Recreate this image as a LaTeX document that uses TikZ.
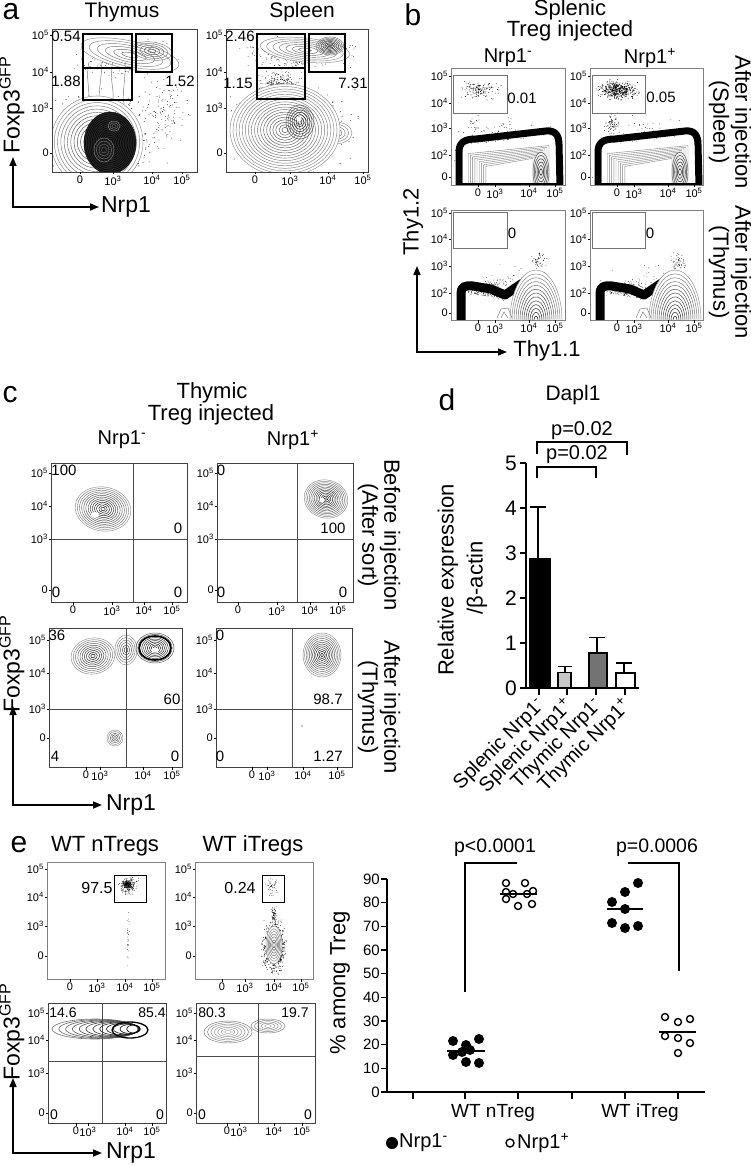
\documentclass[tikz,border=0pt]{standalone}
\usepackage{fontspec}
\setmainfont{Liberation Sans}
\usetikzlibrary{arrows.meta}
\newcounter{tkn}
\newcommand\fs[1]{\fontsize{#1}{#1}\selectfont}
\newcommand\E[1]{10\textsuperscript{#1}}
\newcommand\ytl[3]{\stepcounter{tkn}\draw[tkl] (#1,#2) -- (#1-2.5,#2);\node[tk,anchor=east] (tk\thetkn) at (#1-2.5,#2) {#3};}
\newcommand\xtl[3]{\stepcounter{tkn}\draw[tkl] (#1,#2) -- (#1,#2+2.5);\node[tk,anchor=north] (tk\thetkn) at (#1,#2+3) {#3};}
\newcommand\dcl[6]{\foreach \ii in {1,...,#5}{\pgfmathsetmacro\ddx{#3*(rand+rand+rand)/3}\pgfmathsetmacro\ddy{#4*(rand+rand+rand)/3}\fill (#1+\ddx,#2+\ddy) circle[radius=#6pt];}}
\newcommand\ctr[8]{\foreach \kk in {1,...,#5}{%
 \pgfmathsetmacro\sc{1-(\kk-1)/(#5)}%
 \pgfmathsetmacro\rxx{(#3)*\sc}\pgfmathsetmacro\ryy{(#4)*\sc}%
 \pgfmathtruncatemacro\shd{#7+(#8-#7)*(\kk-1)/max(#5-1,1)}%
 \draw[black!\shd,line width=0.45pt,rotate around={#6:(#1,#2)}] (#1,#2) ellipse[x radius=\rxx pt,y radius=\ryy pt];}}
\newcommand\wel[5]{\fill[white,rotate around={#5:(#1,#2)}] (#1,#2) ellipse[x radius=#3pt,y radius=#4pt];}
\newcommand\bUpper[3]{%
\begin{scope}\clip (#1,68) rectangle (#1+114,185);
\dcl{#1+57}{150}{70}{40}{260}{0.4}
\dcl{#1+28}{90}{26}{12}{#2}{0.45}
\dcl{#1+22}{125}{10}{14}{#3}{0.4}
\fill[white] (#1+12,185) -- (#1+12,152) .. controls (#1+12,145) and (#1+17,144) .. (#1+26,144) -- (#1+95,136) .. controls (#1+102,135) and (#1+104,139) .. (#1+104,146) -- (#1+105,185) -- cycle;
\draw[black,line width=7pt,line join=round] (#1+8,186) -- (#1+8,152) .. controls (#1+8,142) and (#1+14,139) .. (#1+25,139) -- (#1+95,131) .. controls (#1+105,130) and (#1+108,136) .. (#1+108,145) -- (#1+109,186);
\draw[white,line width=2.5pt] (#1+13,186) -- (#1+13,153) .. controls (#1+13,147) and (#1+18,146) .. (#1+26,146) -- (#1+95,138) .. controls (#1+101,137) and (#1+103,141) .. (#1+103,147) -- (#1+103.5,186);
\foreach \k in {1,...,9}{\draw[black!50,line width=0.4pt] (#1+15+2.2*\k,186) -- (#1+15+2.2*\k,152+1.6*\k) -- (#1+100-2*\k,144+1.6*\k) -- (#1+100-2*\k,186);}
\ctr{#1+90}{172}{8}{20}{6}{0}{70}{100}
\draw[black,line width=2pt] (#1+8,184) -- (#1+109,184);
\end{scope}}
\newcommand\bLower[1]{%
\begin{scope}\clip (#1,210) rectangle (#1+114,320);
\dcl{#1+35}{292}{32}{14}{260}{0.4}
\dcl{#1+88}{262}{10}{16}{50}{0.4}
\dcl{#1+60}{282}{45}{25}{60}{0.35}
\fill[white] (#1+15,320) -- (#1+15,296) -- (#1+22,294) -- (#1+40,297) -- (#1+54,302) -- (#1+70,292) -- (#1+70,320) -- cycle;
\draw[black,line width=9pt,line join=round] (#1+10,322) -- (#1+10,293) .. controls (#1+10,287) and (#1+14,285) .. (#1+22,286) -- (#1+40,289) -- (#1+54,295) -- (#1+70,284) -- (#1+88,275);
\wel{#1+85}{320}{26}{50}{0}
\ctr{#1+85}{320}{26}{50}{13}{0}{45}{100}
\draw[black!50,line width=0.5pt] (#1+46,318) -- (#1+50,309) -- (#1+57,308) -- (#1+61,318) (#1+50,318) -- (#1+53,312) -- (#1+57,318);
\end{scope}}
\tikzset{
 frm/.style={draw=black!75, line width=0.8pt},
 frmg/.style={draw=black!50, line width=0.7pt},
 gate/.style={draw=black, line width=1.1pt},
 gateg/.style={draw=black!55, line width=0.7pt},
 quad/.style={draw=black!70, line width=0.8pt},
 tkl/.style={line width=0.5pt},
 tk/.style={font=\fs{11}, inner sep=0.5pt},
 num/.style={font=\fs{15}, inner sep=0pt},
 ttl/.style={font=\fs{21}, inner sep=0pt},
 sub/.style={font=\fs{20}, inner sep=0pt},
 plet/.style={font=\fs{30}, inner sep=0pt},
 axl/.style={font=\fs{23}, inner sep=0pt},
 axarr/.style={line width=1.6pt, {Triangle[length=9pt,width=7pt]}-{Triangle[length=9pt,width=7pt]}},
 sidel/.style={font=\fs{22}, inner sep=0pt, rotate=-90, align=center},
 thk/.style={line width=1.6pt},
 fdot/.style={circle, fill=black, minimum size=10pt, inner sep=0pt},
 odot/.style={circle, draw=black, line width=1.4pt, minimum size=7pt, inner sep=0pt},
}
\begin{document}
\begin{tikzpicture}[x=1pt,y=-1pt]
\useasboundingbox (0,0) rectangle (750,1166);
\pgfmathsetseed{11}
%%%%%%%%%%%%%%%% panel a
\node[plet] (la) at (11,12) {a};
\node[ttl] (aT1) at (122,12) {Thymus};
\node[ttl] (aT2) at (302,12) {Spleen};
\begin{scope}
\clip (52,29) rectangle (197,172);
\dcl{100}{135}{75}{55}{450}{0.45}
\dcl{125}{58}{60}{24}{220}{0.4}
\dcl{165}{110}{35}{45}{120}{0.4}
\wel{130}{55}{50}{14}{-12}
\ctr{130}{55}{50}{14}{6}{-12}{45}{60}
\ctr{152}{51}{20}{9}{5}{-8}{50}{70}
\foreach \xx/\dd in {88/3,100/-3,112/4,124/-2}{\draw[black!55,line width=0.45pt] (\xx,105) .. controls (\xx+\dd,90) and (\xx-\dd,78) .. (\xx+1,62);}
\wel{97}{142}{46}{46}{0}
\ctr{97}{142}{46}{46}{14}{0}{45}{85}
\fill[black!85] (110,143) ellipse[x radius=26pt,y radius=31pt];
\ctr{110}{143}{26}{31}{16}{0}{100}{100}
\ctr{104}{150}{10}{12}{4}{0}{45}{60}
\ctr{114}{126}{6}{5}{3}{0}{45}{60}
\end{scope}
\draw[frm] (52,29) rectangle (197,172);
\draw[gate] (83,34) rectangle (132,68) (83,68) rectangle (132,100) (136,34) rectangle (172,72);
\node[num] (an1) at (66,36) {0.54};
\node[num] (an2) at (66,81) {1.88};
\node[num] (an3) at (180,81) {1.52};
\ytl{52}{35}{\E5}\ytl{52}{72}{\E4}\ytl{52}{108}{\E3}\ytl{52}{153}{0}
\xtl{80}{172}{0}\xtl{113}{172}{\E3}\xtl{152}{172}{\E4}\xtl{182}{172}{\E5}
\begin{scope}
\clip (226,29) rectangle (368,172);
\dcl{290}{125}{80}{55}{500}{0.45}
\dcl{298}{52}{68}{20}{450}{0.4}
\dcl{281}{84}{28}{15}{250}{0.4}
\wel{305}{50}{45}{12}{-6}
\ctr{305}{50}{45}{12}{7}{-6}{45}{60}
\ctr{330}{46}{14}{9}{8}{0}{55}{95}
\wel{335}{133}{17}{11}{0}
\ctr{335}{133}{17}{11}{5}{0}{45}{60}
\wel{285}{130}{55}{46}{0}
\ctr{285}{130}{55}{46}{18}{0}{45}{70}
\ctr{300}{122}{14}{17}{7}{0}{70}{100}
\fill[white] (299,119) circle[radius=2.5pt];
\end{scope}
\draw[frm] (226,29) rectangle (368,172);
\draw[gate] (257,34) rectangle (305,68) (257,68) rectangle (305,99) (309,34) rectangle (345,72);
\node[num] (an4) at (240,36) {2.46};
\node[num] (an5) at (238,83) {1.15};
\node[num] (an6) at (353,83) {7.31};
\ytl{226}{35}{\E5}\ytl{226}{72}{\E4}\ytl{226}{108}{\E3}\ytl{226}{153}{0}
\xtl{255}{172}{0}\xtl{290}{172}{\E3}\xtl{328}{172}{\E4}\xtl{363}{172}{\E5}
\coordinate (aY) at (13,157); \coordinate (aO) at (13,207); \coordinate (aX) at (99,207);
\draw[axarr] (aY) -- (aO) -- (aX);
\node[axl,rotate=90] (aFox) at (12,105) {Foxp3\textsuperscript{GFP}};
\node[axl] (aNrp) at (126,207) {Nrp1};
%%%%%%%%%%%%%%%% panel b
\node[plet] (lb) at (413,15) {b};
\node[ttl,font=\fs{22}] (bT1) at (570,10) {Splenic};
\node[ttl,font=\fs{22}] (bT2) at (570,31) {Treg injected};
\node[sub] (bS1) at (508,58) {Nrp1\textsuperscript{-}};
\node[sub] (bS2) at (650,58) {Nrp1\textsuperscript{+}};
\bUpper{451}{130}{20}
\bUpper{590}{450}{70}
\bLower{451}
\bLower{590}
\draw[frmg] (451,68) rectangle (565,185);
\draw[frmg] (590,68) rectangle (703,185);
\draw[frmg] (451,210) rectangle (565,320);
\draw[frmg] (590,210) rectangle (703,320);
\draw[gateg] (453,75) rectangle (507,113) (592,75) rectangle (645,113);
\draw[gateg] (453,212) rectangle (507,248) (592,212) rectangle (645,248);
\node[num] (bn1) at (522,98) {0.01};
\node[num] (bn2) at (661,97) {0.05};
\node[num] (bn3) at (512,233) {0};
\node[num] (bn4) at (650,233) {0};
\foreach \X in {451,590}{
\ytl{\X}{76}{\E5}\ytl{\X}{103}{\E4}\ytl{\X}{128}{\E3}\ytl{\X}{155}{\E2}\ytl{\X}{177}{0}
\ytl{\X}{213}{\E5}\ytl{\X}{239}{\E4}\ytl{\X}{266}{\E3}\ytl{\X}{293}{\E2}\ytl{\X}{313}{0}
\xtl{\X+27}{185}{0}\xtl{\X+44}{185}{\E3}\xtl{\X+78}{185}{\E4}\xtl{\X+104}{185}{\E5}
\xtl{\X+27}{320}{0}\xtl{\X+44}{320}{\E3}\xtl{\X+78}{320}{\E4}\xtl{\X+104}{320}{\E5}
}
\node[sidel] (bR1) at (730,122) {After injection\\(Spleen)};
\node[sidel] (bR2) at (730,272) {After injection\\(Thymus)};
\coordinate (bY) at (417,266); \coordinate (bO) at (417,352); \coordinate (bX) at (507,352);
\draw[axarr] (bY) -- (bO) -- (bX);
\node[axl,font=\fs{22},rotate=90] (bThy2) at (413,222) {Thy1.2};
\node[axl,font=\fs{22}] (bThy1) at (547,351) {Thy1.1};
%%%%%%%%%%%%%%%% panel c
\node[plet] (lc) at (10,395) {c};
\node[ttl,font=\fs{22}] (cT1) at (212,393) {Thymic};
\node[ttl,font=\fs{22}] (cT2) at (211,415) {Treg injected};
\node[sub] (cS1) at (122,440) {Nrp1\textsuperscript{-}};
\node[sub] (cS2) at (293,440) {Nrp1\textsuperscript{+}};
\wel{103}{509}{28}{22}{-10}
\ctr{103}{509}{28}{22}{13}{-10}{45}{100}
\fill[white] (95,515) ellipse[x radius=4pt,y radius=3pt];
\ctr{326}{499}{22}{19}{13}{-15}{45}{100}
\fill[white] (322,500) circle[radius=2.5pt];
\ctr{93}{656}{22}{18}{10}{10}{45}{100}
\ctr{126}{650}{11}{15}{6}{0}{45}{80}
\ctr{155}{648}{19}{15}{10}{0}{70}{100}
\draw[line width=1.6pt] (155,648) ellipse[x radius=16pt,y radius=12pt];
\fill[white] (155,650) ellipse[x radius=4pt,y radius=2.5pt];
\ctr{115}{738}{8}{8}{5}{0}{45}{80}
\ctr{322}{655}{19}{22}{12}{0}{45}{100}
\fill (302,726) circle[radius=0.7pt];
\draw[frm] (51,463) rectangle (187,602);
\draw[quad] (133,463) -- (133,602) (51,539) -- (187,539);
\draw[frm] (217,463) rectangle (353,602);
\draw[quad] (297,463) -- (297,602) (217,539) -- (353,539);
\draw[frm] (49,628) rectangle (182,767);
\draw[quad] (126,628) -- (126,767) (49,709) -- (182,709);
\draw[frm] (216,628) rectangle (352,767);
\draw[quad] (292,628) -- (292,767) (216,709) -- (352,709);
\node[num] (cn1) at (64,470) {100};
\node[num] (cn2) at (178,528) {0};
\node[num] (cn3) at (56,592) {0};
\node[num] (cn4) at (178,592) {0};
\node[num] (cn5) at (221,470) {0};
\node[num] (cn6) at (333,528) {100};
\node[num] (cn7) at (221,592) {0};
\node[num] (cn8) at (343,592) {0};
\node[num] (cn9) at (57,635) {36};
\node[num] (cn10) at (172,699) {60};
\node[num] (cn11) at (55,756) {4};
\node[num] (cn12) at (175,756) {0};
\node[num] (cn13) at (220,635) {0};
\node[num] (cn14) at (328,699) {98.7};
\node[num] (cn15) at (220,756) {0};
\node[num] (cn16) at (328,756) {1.27};
\ytl{51}{473}{\E5}\ytl{51}{506}{\E4}\ytl{51}{539}{\E3}\ytl{51}{590}{0}
\ytl{217}{473}{\E5}\ytl{217}{506}{\E4}\ytl{217}{539}{\E3}\ytl{217}{590}{0}
\xtl{73}{602}{0}\xtl{112}{602}{\E3}\xtl{144}{602}{\E4}\xtl{172}{602}{\E5}
\xtl{238}{602}{0}\xtl{277}{602}{\E3}\xtl{310}{602}{\E4}\xtl{338}{602}{\E5}
\ytl{49}{640}{\E5}\ytl{49}{673}{\E4}\ytl{49}{709}{\E3}\ytl{49}{738}{0}
\ytl{216}{640}{\E5}\ytl{216}{673}{\E4}\ytl{216}{709}{\E3}\ytl{216}{738}{0}
\xtl{86}{767}{0}\xtl{100}{767}{\E3}\xtl{143}{767}{\E4}\xtl{172}{767}{\E5}
\xtl{252}{767}{0}\xtl{267}{767}{\E3}\xtl{303}{767}{\E4}\xtl{337}{767}{\E5}
\node[sidel] (cR1) at (379,535) {Before injection\\(After sort)};
\node[sidel] (cR2) at (379,707) {After injection\\(Thymus)};
\coordinate (cY) at (13,706); \coordinate (cO) at (13,805); \coordinate (cX) at (102,805);
\draw[axarr] (cY) -- (cO) -- (cX);
\node[axl,rotate=90] (cFox) at (12,664) {Foxp3\textsuperscript{GFP}};
\node[axl] (cNrp) at (131,805) {Nrp1};
%%%%%%%%%%%%%%%% panel d
\node[plet] (ld) at (447,400) {d};
\node[ttl] (dT) at (573,395) {Dapl1};
\draw[thk] (526,463) -- (526,688) -- (639,688);
\foreach \v in {0,...,5}{\draw[thk] (520,688-45*\v) -- (526,688-45*\v); \node[font=\fs{21},anchor=east,inner sep=0pt] (dy\v) at (517,688-45*\v) {\v};}
\foreach \xx in {539,567,596,625}{\draw[thk] (\xx,688) -- (\xx,695);}
\draw[thk,fill=black] (530,688) rectangle (550,558.4);
\draw[thk,fill=black!22] (558,688) rectangle (571,672.3);
\draw[thk,fill=black!55] (589,688) rectangle (607,652.9);
\draw[thk,fill=white] (616,688) rectangle (635,673.2);
\draw[thk] (538,558) -- (538,507) (530,507) -- (546,507);
\draw[thk] (565,672) -- (565,666.4) (558,666.4) -- (572,666.4);
\draw[thk] (597,653) -- (597,637.6) (589,637.6) -- (605,637.6);
\draw[thk] (624,673) -- (624,663) (616,663) -- (632,663);
\draw[line width=1.5pt] (537,454) -- (537,442) -- (627,442) -- (627,455);
\draw[line width=1.5pt] (537,478) -- (537,467) -- (596,467) -- (596,478);
\node[font=\fs{20},inner sep=0pt] (dp1) at (582,431) {p=0.02};
\node[font=\fs{20},inner sep=0pt] (dp2) at (577,455) {p=0.02};
\node[font=\fs{22},rotate=90,inner sep=0pt] (dyl1) at (448,580) {Relative expression};
\node[font=\fs{22},rotate=90,inner sep=0pt] (dyl2) at (477,578) {/β-actin};
\foreach \xx/\t [count=\i] in {542/Splenic Nrp1\textsuperscript{-},570/Splenic Nrp1\textsuperscript{+},599/Thymic Nrp1\textsuperscript{-},628/Thymic Nrp1\textsuperscript{+}}{
\node[font=\fs{20},rotate=45,anchor=east,inner sep=0pt] (dx\i) at (\xx,702) {\t};}
%%%%%%%%%%%%%%%% panel e
\node[plet] (le) at (19,845) {e};
\node[ttl,font=\fs{22}] (eT1) at (105,846) {WT nTregs};
\node[ttl,font=\fs{22}] (eT2) at (253,846) {WT iTregs};
\begin{scope}
\clip (47,862) rectangle (165,979);
\dcl{128}{885}{12}{11}{200}{0.4}
\dcl{127}{884}{5}{5}{80}{0.5}
\dcl{128}{940}{2}{38}{25}{0.35}
\end{scope}
\begin{scope}
\clip (195,862) rectangle (313,979);
\dcl{272}{887}{9}{12}{50}{0.35}
\dcl{274}{915}{4}{12}{60}{0.4}
\dcl{274}{947}{14}{30}{1100}{0.45}
\wel{274}{945}{8}{19}{0}
\ctr{274}{945}{8}{19}{7}{0}{45}{75}
\end{scope}
\draw[frmg] (47,862) rectangle (165,979);
\draw[frmg] (195,862) rectangle (313,979);
\draw[gate,line width=0.8pt] (114,875) rectangle (146,902) (262,875) rectangle (284,902);
\node[font=\fs{16},inner sep=0pt] (en1) at (97,888) {97.5};
\node[font=\fs{16},inner sep=0pt] (en2) at (240,888) {0.24};
\foreach \k in {0,...,11}{\pgfmathsetmacro\cx{95+3.5*\k}\pgfmathsetmacro\rx{43-3.3*\k}\pgfmathsetmacro\ry{10-0.55*\k}\pgfmathtruncatemacro\sh{55+45*\k/11}\draw[black!\sh,line width=0.6pt] (\cx,1029) ellipse[x radius=\rx pt,y radius=\ry pt];}
\draw[line width=1.3pt] (130,1030) ellipse[x radius=18pt,y radius=8pt];
\fill[white] (137,1035) circle[radius=1.8pt];
\ctr{228}{1032}{24}{11}{7}{0}{55}{35}
\ctr{268}{1026}{17}{7}{5}{0}{55}{45}
\draw[frm] (48,1003) rectangle (166,1123);
\draw[quad] (102,1003) -- (102,1123) (48,1061) -- (166,1061);
\draw[frm] (196,1003) rectangle (315,1123);
\draw[quad] (258,1003) -- (258,1123) (196,1056) -- (315,1056);
\node[num,font=\fs{14}] (en3) at (63,1013) {14.6};
\node[num,font=\fs{14}] (en4) at (152,1013) {85.4};
\node[num,font=\fs{14}] (en5) at (54,1115) {0};
\node[num,font=\fs{14}] (en6) at (160,1115) {0};
\node[num,font=\fs{14}] (en7) at (212,1013) {80.3};
\node[num,font=\fs{14}] (en8) at (295,1013) {19.7};
\node[num,font=\fs{14}] (en9) at (202,1115) {0};
\node[num,font=\fs{14}] (en10) at (308,1115) {0};
\ytl{47}{869}{\E5}\ytl{47}{897}{\E4}\ytl{47}{926}{\E3}\ytl{47}{956}{0}
\ytl{195}{869}{\E5}\ytl{195}{897}{\E4}\ytl{195}{926}{\E3}\ytl{195}{956}{0}
\xtl{70}{979}{0}\xtl{97}{979}{\E3}\xtl{125}{979}{\E4}\xtl{152}{979}{\E5}
\xtl{222}{979}{0}\xtl{245}{979}{\E3}\xtl{274}{979}{\E4}\xtl{301}{979}{\E5}
\ytl{48}{1013}{\E5}\ytl{48}{1040}{\E4}\ytl{48}{1073}{\E3}\ytl{48}{1113}{0}
\ytl{196}{1013}{\E5}\ytl{196}{1040}{\E4}\ytl{196}{1073}{\E3}\ytl{196}{1113}{0}
\xtl{76}{1123}{0}\xtl{88}{1123}{\E3}\xtl{125}{1123}{\E4}\xtl{152}{1123}{\E5}
\xtl{227}{1123}{0}\xtl{239}{1123}{\E3}\xtl{274}{1123}{\E4}\xtl{302}{1123}{\E5}
\coordinate (eY) at (13,1078); \coordinate (eO) at (13,1153); \coordinate (eX) at (102,1153);
\draw[axarr] (eY) -- (eO) -- (eX);
\node[axl,rotate=90] (eFox) at (12,1032) {Foxp3\textsuperscript{GFP}};
\node[axl] (eNrp) at (131,1153) {Nrp1};
% scatter
\draw[thk] (387,879) -- (387,1092) -- (705,1092);
\foreach \v in {0,10,...,90}{\draw[thk] (381,1092-2.367*\v) -- (387,1092-2.367*\v); \node[font=\fs{15},anchor=east,inner sep=0pt] (sy\v) at (380,1092-2.367*\v) {\v};}
\foreach \xx in {413,465,518,572,625,678}{\draw[thk] (\xx,1092) -- (\xx,1099);}
\node[font=\fs{19},inner sep=0pt] (sx1) at (493,1113) {WT nTreg};
\node[font=\fs{19},inner sep=0pt] (sx2) at (640,1113) {WT iTreg};
\node[font=\fs{22},rotate=90,inner sep=0pt] (syl) at (340,983) {\% among Treg};
\draw[line width=1.5pt] (465,992) -- (465,863) -- (517,863);
\draw[line width=1.5pt] (628,863) -- (679,863) -- (679,971);
\node[font=\fs{19.5},inner sep=0pt] (sp1) at (495,848) {p<0.0001};
\node[font=\fs{19.5},inner sep=0pt] (sp2) at (657,848) {p=0.0006};
\foreach \p [count=\i] in {(453,1041),(466,1045),(479,1039),(453,1055),(462,1052),(470,1050),(466,1062),(479,1063)}{\node[fdot] (f1\i) at \p {};}
\foreach \p [count=\i] in {(638,883),(625,892),(612,902),(625,909),(612,923),(625,928),(638,926)}{\node[fdot] (f2\i) at \p {};}
\foreach \p [count=\i] in {(506,883),(525,883),(533,891),(506,892),(513,894),(527,894),(506,899),(518,906),(532,904)}{\node[odot] (o1\i) at \p {};}
\foreach \p [count=\i] in {(665,1017),(678,1022),(690,1019),(665,1036),(678,1038),(690,1043),(678,1053)}{\node[odot] (o2\i) at \p {};}
\draw[line width=1.5pt] (447,1051) -- (485,1051);
\draw[line width=1.5pt] (500,894) -- (537,894);
\draw[line width=1.5pt] (607,909) -- (643,909);
\draw[line width=1.5pt] (659,1032) -- (696,1032);
\node[fdot,minimum size=12pt] (lg1) at (392,1143) {};
\node[font=\fs{20},anchor=west,inner sep=0pt] (lg1t) at (399,1143) {Nrp1\textsuperscript{-}};
\node[odot,minimum size=8pt] (lg2) at (510,1143) {};
\node[font=\fs{20},anchor=west,inner sep=0pt] (lg2t) at (517,1143) {Nrp1\textsuperscript{+}};
\end{tikzpicture}
\end{document}
